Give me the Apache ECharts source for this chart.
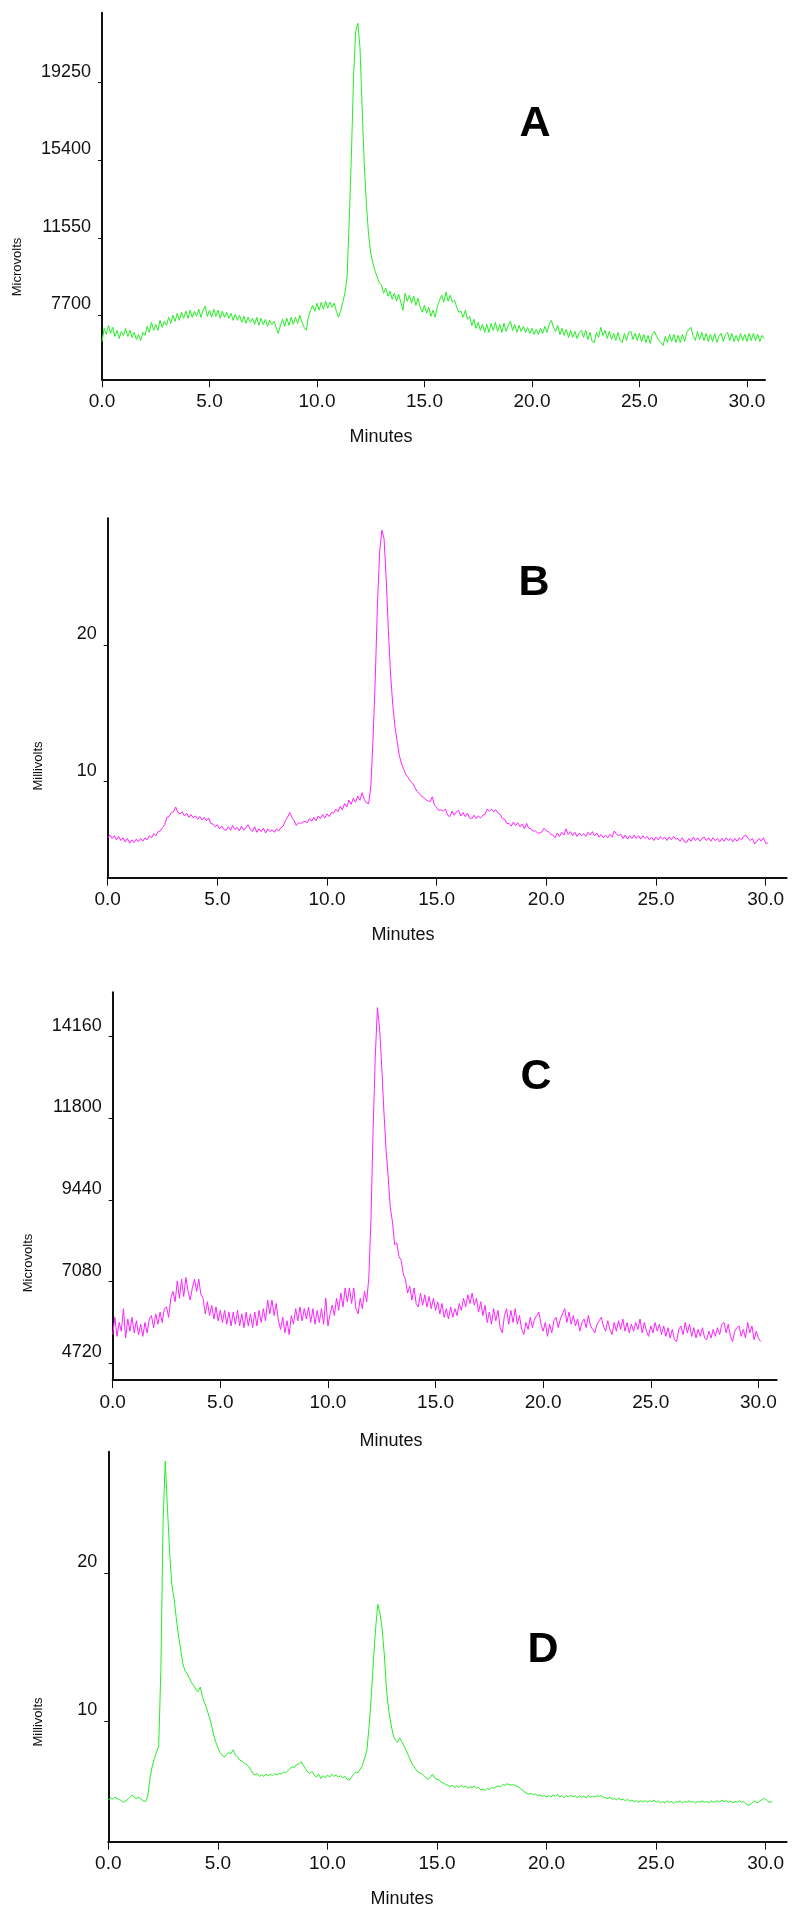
<!DOCTYPE html>
<html><head><meta charset="utf-8">
<script src="https://cdn.jsdelivr.net/npm/echarts@6/dist/echarts.min.js"></script>
<style>html,body{margin:0;padding:0;background:#fff}#c{width:800px;height:1920px}</style>
</head><body><div id="c"></div>
<script>
// sampling step of all traces (minutes)
const STEP = 0.1;
const xTicks = [0, 5, 10, 15, 20, 25, 30];
const ticksA = [7700, 11550, 15400, 19250];
const ticksB = [10, 20];
const ticksC = [4720, 7080, 9440, 11800, 14160];
const ticksD = [10, 20];
const panelLetters = ['A', 'B', 'C', 'D'];
const yNames = ['Microvolts', 'Millivolts', 'Microvolts', 'Millivolts'];
const xName = 'Minutes';

// Panel A (microvolts), t = 0 .. 30.8
const traceA = [
6400,7050,6750,7200,6800,7100,6650,6950,6550,6900,
6700,7050,6650,6950,6600,6850,6500,6750,6450,6850,
6700,7150,6850,7350,6950,7250,6950,7450,7100,7400,
7200,7600,7300,7700,7400,7800,7450,7850,7550,7900,
7550,7950,7600,7900,7650,8000,7600,7950,8150,7650,
7950,7600,8000,7650,7950,7550,7900,7600,7850,7550,
7800,7450,7750,7450,7700,7350,7650,7300,7600,7350,
7550,7250,7600,7200,7550,7250,7500,7150,7450,7250,
7400,7100,6800,7200,7500,7150,7550,7200,7600,7250,
7600,7300,7700,7350,7100,6950,7600,7950,8200,7900,
8300,7950,8350,8000,8400,8050,8350,8100,8300,7900,
7600,7900,8350,8800,9600,12400,15600,19500,21800,22200,
21000,18000,15200,13200,11700,10800,10300,9900,9600,9300,
9200,8800,9050,8650,8900,8500,8800,8400,8750,8350,
7950,8800,8400,8700,8300,8650,8200,8550,8100,7850,
8200,7800,8100,7650,7950,7600,8150,8450,8700,8350,
8850,8400,8700,8350,8450,8100,7850,7900,7600,7950,
7500,7650,7200,7500,7050,7350,6950,7250,6850,7250,
6850,7300,6950,7350,6900,7250,6850,7300,6900,7200,
7400,6950,7250,6850,7200,6900,7150,6850,7100,6800,
7050,6750,7000,6750,7050,6800,7150,6850,7250,7450,
7100,6900,7200,6750,7050,6700,7000,6600,6950,6600,
6900,6550,6850,6950,6600,6950,6500,6850,6400,6350,
6850,6600,7100,6700,6950,6550,6900,6500,6800,6450,
6850,6450,6350,6800,6450,6850,6900,6500,6800,6450,
6800,6400,6750,6350,6700,6300,6750,6900,6650,6450,
6350,6200,6650,6350,6750,6400,6750,6350,6700,6350,
6750,6400,6850,7000,7100,6650,6450,6900,6500,6850,
6450,6800,6400,6750,6400,6800,6350,6650,6800,6400,
6750,6850,6450,6800,6400,6700,6400,6800,6450,6750,
6400,6800,6450,6800,6450,6750,6400,6700,6550
];

// Panel B (millivolts), t = 0 .. 30.1
const traceB = [
5.9,6.1,5.85,6.05,5.75,6.0,5.7,5.9,5.6,5.85,
5.5,5.75,5.55,5.8,5.6,5.85,5.65,5.9,5.75,6.05,
5.9,6.2,6.05,6.35,6.4,6.65,6.85,7.4,7.45,7.75,
7.8,8.15,7.75,7.65,7.8,7.5,7.7,7.4,7.6,7.35,
7.5,7.25,7.45,7.2,7.4,7.15,7.35,6.95,6.9,6.7,
6.85,6.55,6.75,6.5,6.45,6.7,6.45,6.8,6.5,6.65,
6.4,6.75,6.45,6.65,6.85,6.5,6.35,6.7,6.3,6.55,
6.35,6.6,6.25,6.55,6.35,6.5,6.3,6.55,6.4,6.65,
6.75,7.15,7.4,7.75,7.4,7.15,6.8,7.0,6.95,7.05,
7.1,7.0,7.3,7.1,7.4,7.15,7.5,7.3,7.6,7.35,
7.65,7.45,7.75,7.7,8.0,7.8,8.2,7.95,8.4,8.15,
8.65,8.35,8.8,8.5,8.95,8.65,9.2,8.7,8.45,8.4,
9.7,13.2,17.5,23.0,26.8,28.4,27.8,24.8,21.0,17.8,
15.6,14.0,12.9,11.9,11.3,10.9,10.5,10.3,10.05,9.9,
9.6,9.3,9.15,8.95,8.85,8.7,8.6,8.55,8.9,8.3,
8.1,7.9,7.95,7.85,8.0,7.55,7.45,7.85,7.55,7.8,
7.9,7.5,7.75,7.45,7.7,7.35,7.3,7.55,7.3,7.5,
7.35,7.55,7.6,8.0,7.85,8.0,7.8,7.95,7.7,7.6,
7.3,7.25,6.95,6.95,6.75,7.05,6.8,7.0,6.7,6.9,
6.55,6.95,6.6,6.55,6.4,6.4,6.25,6.25,6.35,6.6,
6.4,6.35,6.15,6.1,5.9,6.25,6.0,6.3,6.1,6.55,
6.15,6.35,6.05,6.3,6.0,6.25,6.05,6.2,6.0,6.3,
6.1,6.35,6.05,6.25,5.95,6.15,5.9,6.1,5.9,6.15,
5.95,6.4,6.15,6.05,6.15,5.85,6.1,5.8,6.05,5.85,
6.1,5.85,6.05,5.8,6.05,5.85,6.0,5.75,5.95,5.7,
5.95,5.75,6.0,5.8,5.95,5.7,5.95,5.75,6.0,5.8,
5.85,5.65,5.9,5.6,5.55,5.85,5.65,5.95,5.7,5.9,
5.65,5.85,5.95,5.7,5.9,5.65,5.9,5.7,5.85,5.6,
5.85,5.65,5.9,5.7,5.85,5.6,5.85,5.65,5.9,5.75,
6.0,6.1,5.85,5.7,5.85,5.45,5.65,5.85,5.65,5.9,
5.5,5.5
];

// Panel C (microvolts), t = 0 .. 30.1
const traceC = [
5550,6050,5500,5900,5650,6300,5450,6000,5650,6050,
5600,5950,5550,5850,5500,5900,5600,6000,6100,5750,
6150,5850,6200,5900,6300,6350,6050,6600,6800,6500,
7100,6600,7150,6650,7200,6800,6550,6900,7150,6800,
7150,6700,6600,6150,6500,6100,6400,6000,6350,5950,
6250,5900,6250,5850,6200,5800,6200,5850,6250,5800,
6150,5750,6200,5800,6150,5750,6200,5800,6250,5900,
6300,5950,6550,6150,6550,6100,6450,5950,5700,6050,
5600,5950,5550,6100,5850,6300,5950,6350,5950,6300,
6000,6350,5900,6300,5850,6250,5900,6300,5850,6600,
5800,6150,6400,6100,6600,6250,6750,6350,6900,6500,
6900,6450,6900,6300,6150,6600,6300,6800,6500,7200,
8900,11500,13600,15000,14400,13300,12000,10900,10100,9200,
8800,8150,8200,7800,7700,7300,7150,6750,6950,6550,
6900,6450,6350,6750,6400,6700,6350,6650,6300,6600,
6250,6500,6150,6450,6050,6300,6000,6350,6050,6300,
6100,6450,6250,6600,6350,6700,6450,6750,6400,6600,
6200,6500,6100,6400,5900,6200,5850,6300,5950,6250,
5750,5600,6100,6300,5850,6250,5900,6300,5850,6100,
5700,5550,5900,5700,6050,5750,6000,6100,6200,5850,
5650,5900,5500,5850,5600,5950,6050,5750,6000,6150,
6300,5900,6200,5850,6100,5800,6000,5650,5900,6000,
5750,6100,5800,5700,5600,5850,5950,6050,5800,5650,
5950,5700,5550,5900,5650,5950,5700,6000,5650,5900,
5600,5850,5650,5900,5700,6000,5600,5900,5650,5500,
5800,5600,5900,5650,5850,5550,5800,5500,5750,5450,
5700,5400,5350,5700,5800,5550,5900,5600,5850,5500,
5750,5450,5700,5500,5750,5450,5400,5650,5450,5700,
5500,5750,5550,5850,5900,5600,5850,5500,5350,5650,
5750,5800,5500,5700,5450,5900,5600,5800,5400,5650,
5450,5350
];

// Panel D (millivolts), t = 0 .. 30.3
const traceD = [
4.65,4.8,4.7,4.85,4.75,4.7,4.6,4.5,4.6,4.7,
4.85,5.0,4.8,4.75,4.85,4.7,4.6,4.55,4.9,6.1,
6.9,7.45,7.9,8.3,13.5,23.5,27.6,24.4,21.4,19.2,
18.3,17.0,15.8,14.9,13.9,13.4,13.2,12.9,12.6,12.4,
12.1,12.0,12.3,11.6,11.2,10.8,10.3,9.8,9.1,8.6,
8.2,7.85,7.7,7.55,7.75,7.85,7.8,8.05,7.7,7.55,
7.35,7.3,7.15,7.05,6.95,6.7,6.45,6.35,6.45,6.25,
6.35,6.25,6.4,6.3,6.4,6.3,6.45,6.35,6.45,6.4,
6.55,6.5,6.65,6.8,6.9,6.85,7.05,7.1,7.25,7.0,
6.75,6.55,6.45,6.6,6.35,6.2,6.4,6.1,6.3,6.15,
6.35,6.2,6.4,6.25,6.35,6.2,6.3,6.15,6.25,6.05,
6.0,6.2,6.4,6.55,6.5,6.75,7.0,7.5,8.0,9.6,
11.6,14.1,16.3,17.9,17.3,16.2,14.4,12.0,10.7,9.8,
9.05,8.7,8.55,8.85,8.6,8.3,8.0,7.65,7.3,7.0,
6.8,6.6,6.5,6.45,6.3,6.15,6.05,6.2,6.4,6.15,
6.05,6.0,5.85,5.8,5.7,5.65,5.55,5.65,5.5,5.6,
5.5,5.65,5.5,5.6,5.45,5.55,5.5,5.6,5.45,5.5,
5.35,5.4,5.3,5.45,5.35,5.5,5.45,5.55,5.6,5.55,
5.7,5.65,5.75,5.7,5.65,5.7,5.6,5.55,5.45,5.3,
5.2,5.1,5.05,5.1,5.0,5.05,4.95,5.0,4.9,4.95,
4.85,4.95,4.85,5.0,4.9,5.05,4.85,4.95,4.8,4.95,
4.85,5.0,4.85,4.95,4.8,4.95,4.85,4.9,4.8,4.95,
4.85,4.9,4.85,4.95,4.9,4.95,4.85,4.8,4.75,4.85,
4.7,4.75,4.65,4.8,4.65,4.7,4.6,4.7,4.55,4.65,
4.55,4.6,4.5,4.6,4.55,4.6,4.5,4.6,4.55,4.65,
4.5,4.6,4.45,4.55,4.45,4.6,4.5,4.55,4.4,4.55,
4.5,4.6,4.45,4.55,4.5,4.6,4.5,4.55,4.45,4.55,
4.5,4.6,4.5,4.55,4.45,4.6,4.5,4.55,4.6,4.5,
4.65,4.55,4.6,4.5,4.6,4.45,4.55,4.5,4.6,4.5,
4.55,4.4,4.3,4.35,4.5,4.6,4.45,4.55,4.65,4.75,
4.7,4.55,4.5,4.55
];

const FONT = "'Liberation Sans', Arial, sans-serif";
const INK = '#111';

const panels = [
  {trace: traceA, color: '#22f022', grid: {left: 102, top: 12.7, width: 663, height: 366.6}, xMax: 30.84, yMin: 4522, yMax: 22726, yTicks: ticksA},
  {trace: traceB, color: '#ff22ff', grid: {left: 107.7, top: 518.3, width: 679, height: 359.4}, xMax: 30.96, yMin: 2.98, yMax: 29.27, yTicks: ticksB},
  {trace: traceC, color: '#ff22ff', grid: {left: 112.7, top: 992.3, width: 664, height: 387.7}, xMax: 30.85, yMin: 4238, yMax: 15443, yTicks: ticksC},
  {trace: traceD, color: '#22f022', grid: {left: 108.3, top: 1451.7, width: 678.4, height: 390}, xMax: 30.96, yMin: 1.83, yMax: 28.23, yTicks: ticksD}
];

const grids = [], xAxes = [], yAxes = [], series = [];
panels.forEach((p, i) => {
  grids.push(Object.assign({containLabel: false}, p.grid));
  xAxes.push({
    type: 'value', gridIndex: i, min: 0, max: p.xMax,
    splitLine: {show: false},
    axisLine: {show: true, onZero: false, lineStyle: {color: INK, width: 2}},
    axisTick: {show: true, customValues: xTicks, length: 8, lineStyle: {color: INK, width: 1}},
    axisLabel: {customValues: xTicks, formatter: v => v.toFixed(1), fontSize: 19, fontFamily: FONT, color: INK, margin: 13}
  });
  yAxes.push({
    type: 'value', gridIndex: i, min: p.yMin, max: p.yMax,
    splitLine: {show: false},
    axisLine: {show: true, onZero: false, lineStyle: {color: INK, width: 2}},
    axisTick: {show: true, customValues: p.yTicks, length: 4, lineStyle: {color: INK, width: 1}},
    axisLabel: {customValues: p.yTicks, formatter: v => String(Math.round(v)), fontSize: 18, fontFamily: FONT, color: INK, margin: 11, verticalAlign: 'bottom', padding: [0, 0, 2, 0]}
  });
  series.push({
    type: 'line', xAxisIndex: i, yAxisIndex: i, symbol: 'none', showSymbol: false,
    lineStyle: {color: p.color, width: 1}, itemStyle: {color: p.color},
    data: p.trace.map((v, k) => [+(k * STEP).toFixed(2), v]),
    animation: false
  });
});

const minutesPos = [[381, 437], [403, 935], [391, 1441], [402, 1899]];
const yNamePos = [[17, 267], [38, 766], [28.5, 1263], [38, 1722]];
const letterPos = [[535, 124], [534, 583], [536, 1077], [543, 1650]];
const graphic = [];
for (let i = 0; i < 4; i++) {
  graphic.push({type: 'text', x: minutesPos[i][0], y: minutesPos[i][1], style: {text: xName, fontSize: 18, fontFamily: FONT, fill: INK, align: 'center', verticalAlign: 'middle'}});
  graphic.push({type: 'text', x: yNamePos[i][0], y: yNamePos[i][1], rotation: Math.PI / 2, style: {text: yNames[i], fontSize: 13, fontFamily: FONT, fill: INK, align: 'center', verticalAlign: 'middle'}});
  graphic.push({type: 'text', x: letterPos[i][0], y: letterPos[i][1], style: {text: panelLetters[i], fontSize: 43, fontWeight: 'bold', fontFamily: FONT, fill: '#000', align: 'center', verticalAlign: 'middle'}});
}

const chart = echarts.init(document.getElementById('c'), null, {renderer: 'canvas'});
chart.setOption({
  backgroundColor: '#fff',
  animation: false,
  grid: grids, xAxis: xAxes, yAxis: yAxes, series: series,
  graphic: graphic
});
</script></body></html>
